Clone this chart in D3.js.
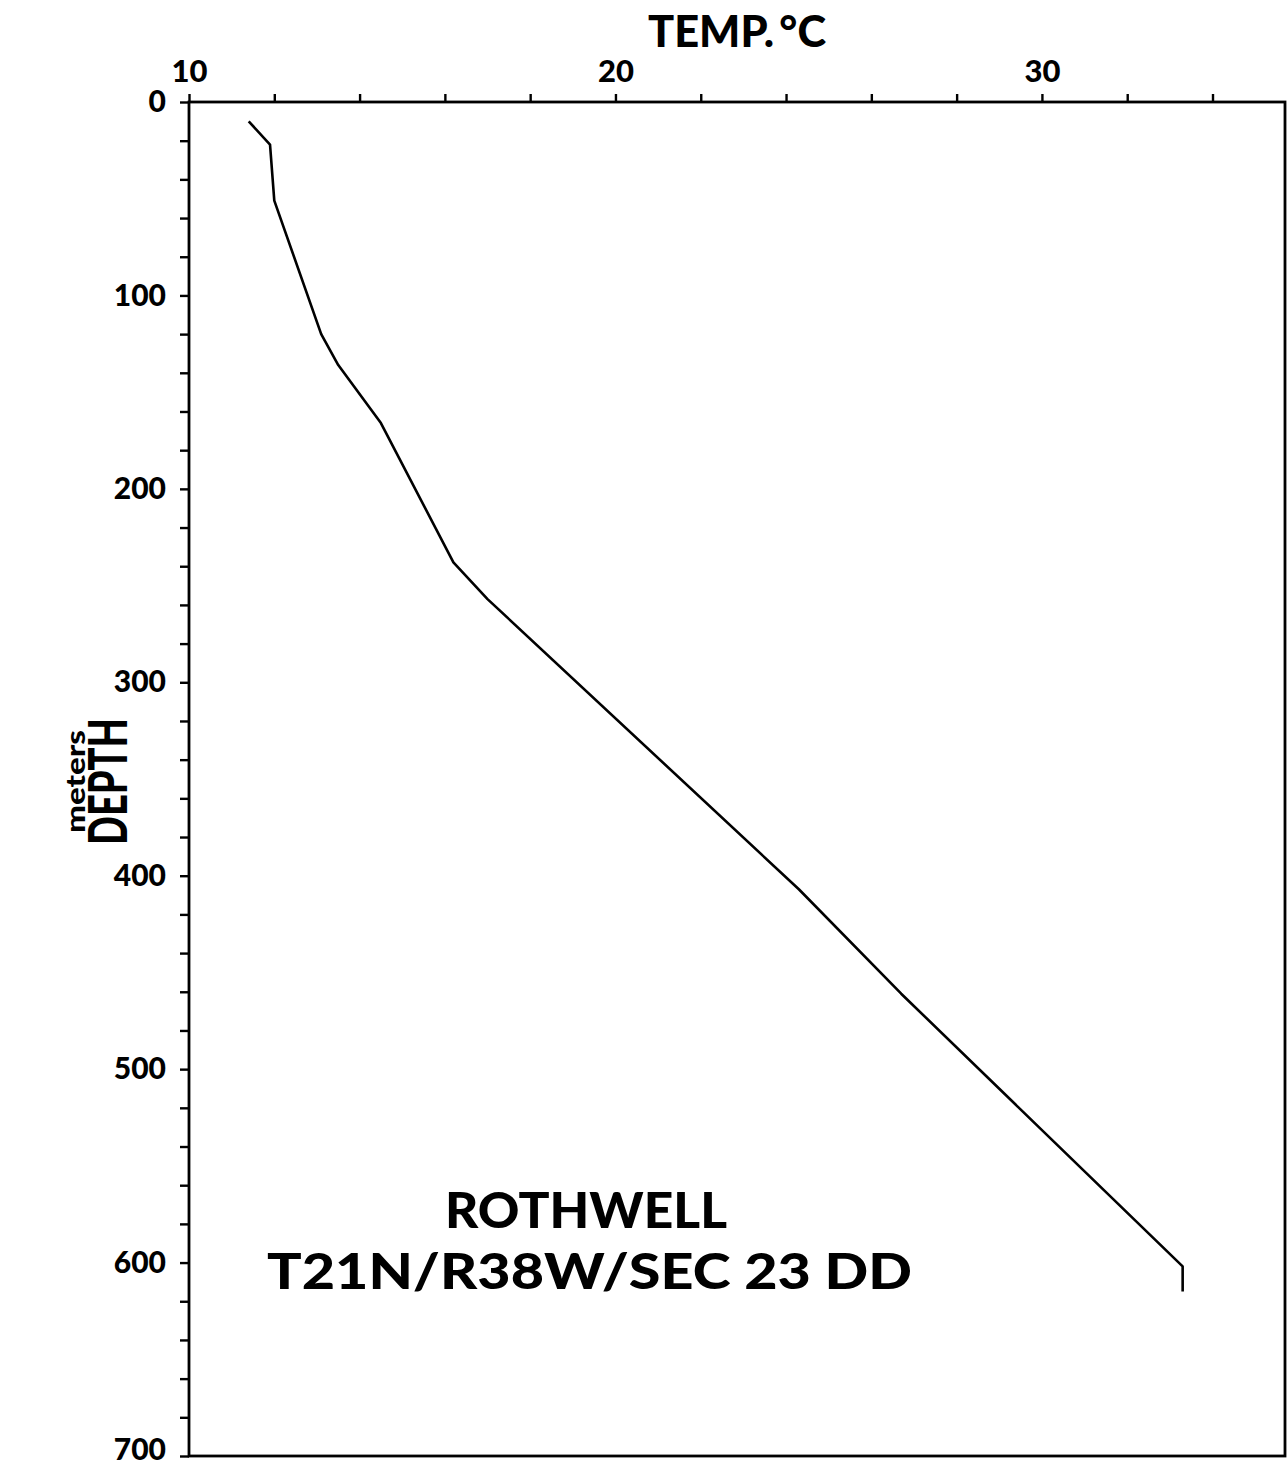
<!DOCTYPE html>
<html>
<head>
<meta charset="utf-8">
<script src="https://cdn.jsdelivr.net/npm/d3@7"></script>
<style>
  html, body { margin: 0; padding: 0; background: #fff; }
  svg { display: block; }
  text { font-family: Lato, "Open Sans", "DejaVu Sans", sans-serif; font-weight: 900; fill: #000; }
</style>
</head>
<body>
<svg id="chart" width="1287" height="1469"></svg>
<script>
// ---- data ----
const temperature = [11.4, 11.9, 12.0, 13.1, 13.5, 14.5, 16.2, 17.0, 24.3, 26.7, 33.3, 33.3];
const depth       = [10,   22,   51,   120,  136,  166,  238,  257,  407,  461,  602,  615];
const xTickValues = [10, 12, 14, 16, 18, 20, 22, 24, 26, 28, 30, 32, 34];
const xTickLabels = [10, 20, 30];
const yTickValues = d3.range(0, 701, 20);
const yTickLabels = [0, 100, 200, 300, 400, 500, 600, 700];
const titleText = "TEMP.\u2009\u00B0C";
const yTitle = "DEPTH";
const ySubTitle = "meters";
const noteLines = ["ROTHWELL", "T21N/R38W/SEC 23 DD"];

// ---- layout ----
const svg = d3.select("#chart");
const x = d3.scaleLinear().domain([10, 35.7]).range([189, 1285]);
const y = d3.scaleLinear().domain([0, 700]).range([102, 1456]);

// frame
svg.append("rect")
  .attr("x", x(10)).attr("y", y(0))
  .attr("width", x(35.7) - x(10)).attr("height", y(700) - y(0))
  .attr("fill", "none").attr("stroke", "#000").attr("stroke-width", 2.8);

// top axis
const xAxis = d3.axisTop(x)
  .tickValues(xTickValues)
  .tickSize(8).tickPadding(12)
  .tickFormat(d => xTickLabels.includes(d) ? d : "");
const gx = svg.append("g").attr("transform", `translate(0,${y(0)})`).call(xAxis);
gx.select(".domain").remove();
gx.selectAll(".tick line").attr("stroke", "#000").attr("stroke-width", 2.4);
gx.selectAll(".tick text").attr("font-size", 31).attr("fill", "#000")
  .style("font-family", "Lato, 'Open Sans', sans-serif").style("font-weight", 900);

// left axis
const yAxis = d3.axisLeft(y)
  .tickValues(yTickValues)
  .tickSize(9).tickPadding(14)
  .tickFormat(d => yTickLabels.includes(d) ? d : "");
const gy = svg.append("g").attr("transform", `translate(${x(10)},0)`).call(yAxis);
gy.select(".domain").remove();
gy.selectAll(".tick line").attr("stroke", "#000").attr("stroke-width", 2.4);
gy.selectAll(".tick text").attr("font-size", 30).attr("fill", "#000")
  .style("font-family", "Lato, 'Open Sans', sans-serif").style("font-weight", 900);
gy.selectAll(".tick text").filter(d => d === 700).attr("dy", "0.1em");

// profile line
const pts = temperature.map((t, i) => [t, depth[i]]);
const line = d3.line().x(d => x(d[0])).y(d => y(d[1]));
svg.append("path").datum(pts)
  .attr("d", line)
  .attr("fill", "none").attr("stroke", "#000")
  .attr("stroke-width", 2.6).attr("stroke-linejoin", "round");

// title
svg.append("text")
  .attr("x", 648).attr("y", 47)
  .attr("font-size", 44)
  .attr("textLength", 178).attr("lengthAdjust", "spacingAndGlyphs")
  .text(titleText);

// y titles (rotated)
svg.append("text")
  .attr("transform", "translate(127,845) rotate(-90)")
  .attr("font-size", 54)
  .attr("textLength", 127).attr("lengthAdjust", "spacingAndGlyphs")
  .text(yTitle);
svg.append("text")
  .attr("transform", "translate(85,833) rotate(-90)")
  .attr("font-size", 27)
  .attr("textLength", 103).attr("lengthAdjust", "spacingAndGlyphs")
  .text(ySubTitle);

// annotation
svg.append("text")
  .attr("x", 445).attr("y", 1228)
  .attr("font-size", 50)
  .attr("textLength", 282).attr("lengthAdjust", "spacingAndGlyphs")
  .text(noteLines[0]);
svg.append("text")
  .attr("x", 267).attr("y", 1289)
  .attr("font-size", 50)
  .attr("textLength", 645).attr("lengthAdjust", "spacingAndGlyphs")
  .text(noteLines[1]);
</script>
</body>
</html>
